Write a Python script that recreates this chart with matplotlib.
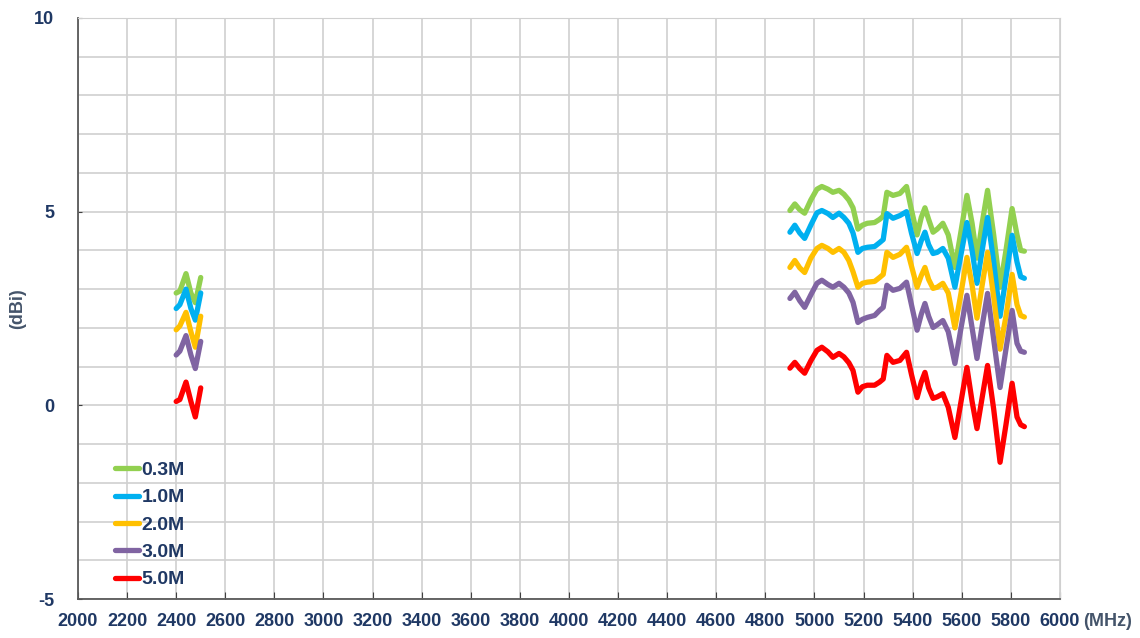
import matplotlib
matplotlib.use("Agg")
import matplotlib.pyplot as plt

# frequency points (MHz)
freq_24 = [2400, 2415, 2440, 2460, 2478, 2500]
freq_5 = [4900, 4920, 4940, 4960, 4985, 5010, 5030, 5055, 5075, 5100,
          5120, 5140, 5157, 5177, 5195, 5215, 5245, 5265, 5280, 5295,
          5320, 5348, 5375, 5395, 5418, 5435, 5450, 5465, 5483, 5500,
          5523, 5545, 5572, 5597, 5621, 5642, 5662, 5683, 5705, 5730,
          5756, 5780, 5805, 5825, 5840, 5855]

labels = ["0.3M", "1.0M", "2.0M", "3.0M", "5.0M"]
colors = ["#92D050", "#00B0F0", "#FFC000", "#8064A2", "#FF0000"]

# gain (dBi), 2.4 GHz band
gain_24_03 = [2.9, 2.95, 3.4, 2.9, 2.65, 3.3]
gain_24_10 = [2.5, 2.6, 3.0, 2.5, 2.2, 2.9]
gain_24_20 = [1.95, 2.05, 2.4, 1.9, 1.5, 2.3]
gain_24_30 = [1.3, 1.4, 1.8, 1.3, 0.95, 1.65]
gain_24_50 = [0.1, 0.15, 0.6, 0.1, -0.3, 0.45]

# gain (dBi), 5 GHz band
gain_5_03 = [5.03, 5.2, 5.05, 4.96, 5.3, 5.58, 5.65, 5.58, 5.5, 5.55,
             5.45, 5.3, 5.1, 4.55, 4.65, 4.7, 4.72, 4.8, 4.88, 5.5,
             5.42, 5.47, 5.65, 5.05, 4.4, 4.85, 5.1, 4.8, 4.47, 4.55,
             4.7, 4.4, 3.56, 4.5, 5.42, 4.7, 3.8, 4.7, 5.55, 4.4,
             3.05, 4.0, 5.08, 4.4, 4.0, 3.98]
gain_5_10 = [4.47, 4.65, 4.45, 4.31, 4.65, 4.97, 5.03, 4.95, 4.85, 4.96,
             4.85, 4.7, 4.45, 3.95, 4.05, 4.08, 4.1, 4.2, 4.28, 4.95,
             4.83, 4.9, 5.0, 4.45, 3.92, 4.25, 4.47, 4.15, 3.92, 3.95,
             4.05, 3.8, 3.05, 3.9, 4.72, 4.0, 3.15, 4.0, 4.85, 3.7,
             2.3, 3.3, 4.39, 3.7, 3.32, 3.28]
gain_5_20 = [3.56, 3.74, 3.55, 3.43, 3.8, 4.05, 4.13, 4.05, 3.95, 4.05,
             3.95, 3.74, 3.45, 3.05, 3.15, 3.18, 3.2, 3.3, 3.38, 3.95,
             3.82, 3.9, 4.08, 3.6, 3.05, 3.35, 3.56, 3.25, 3.02, 3.05,
             3.15, 2.9, 2.0, 2.9, 3.82, 3.1, 2.25, 3.1, 3.95, 2.8,
             1.45, 2.3, 3.38, 2.6, 2.32, 2.28]
gain_5_30 = [2.76, 2.92, 2.7, 2.53, 2.85, 3.15, 3.23, 3.12, 3.05, 3.15,
             3.05, 2.9, 2.66, 2.14, 2.22, 2.27, 2.32, 2.45, 2.53, 3.1,
             2.97, 3.02, 3.18, 2.6, 1.94, 2.35, 2.63, 2.3, 2.01, 2.08,
             2.19, 1.9, 1.08, 2.0, 2.84, 2.0, 1.21, 2.05, 2.89, 1.7,
             0.46, 1.45, 2.45, 1.6, 1.4, 1.37]
gain_5_50 = [0.96, 1.11, 0.95, 0.83, 1.15, 1.42, 1.5, 1.38, 1.24, 1.34,
             1.25, 1.1, 0.9, 0.34, 0.48, 0.52, 0.52, 0.6, 0.68, 1.29,
             1.11, 1.16, 1.37, 0.8, 0.2, 0.6, 0.85, 0.45, 0.18, 0.22,
             0.3, -0.05, -0.83, 0.1, 0.98, 0.1, -0.6, 0.2, 1.03, -0.1,
             -1.47, -0.5, 0.57, -0.3, -0.5, -0.55]

band_24 = [gain_24_03, gain_24_10, gain_24_20, gain_24_30, gain_24_50]
band_5 = [gain_5_03, gain_5_10, gain_5_20, gain_5_30, gain_5_50]

navy = "#1F3864"
plt.rcParams["font.family"] = ["Liberation Sans", "DejaVu Sans"]
plt.rcParams["axes.unicode_minus"] = False

fig = plt.figure(figsize=(11.4, 6.38), dpi=100)
ax = fig.add_axes([0.0684, 0.0611, 0.8614, 0.9107])

for g24, g5, lab, col in zip(band_24, band_5, labels, colors):
    ax.plot(freq_24, g24, color=col, lw=3.8, solid_joinstyle="round",
            solid_capstyle="round", label=lab)
    ax.plot(freq_5, g5, color=col, lw=3.8, solid_joinstyle="round",
            solid_capstyle="round")

ax.set_xlim(2000, 6000)
ax.set_ylim(-5, 10)
ax.set_xticks(range(2000, 6001, 200))
ax.set_yticks([-5, 0, 5, 10])
ax.set_yticks(range(-5, 11), minor=True)
ax.grid(True, which="both", color="#D0D0D0", lw=1.2)
ax.set_axisbelow(True)

for s in ["top", "right"]:
    ax.spines[s].set_color("#D0D0D0")
for s in ["left", "bottom"]:
    ax.spines[s].set_color("#595959")
    ax.spines[s].set_linewidth(1.3)

ax.tick_params(axis="x", direction="in", length=5, color="#404040",
               pad=10, labelsize=13, labelcolor=navy)
ax.tick_params(axis="y", which="major", direction="in", length=3,
               color="#404040", pad=17, labelsize=13, labelcolor=navy)
ax.tick_params(axis="y", which="minor", length=0)
for t in ax.get_xticklabels() + ax.get_yticklabels():
    t.set_fontweight("bold")

ax.set_ylabel("(dBi)", fontsize=13, fontweight="bold", color="#44546A",
              labelpad=6)
fig.text(0.993, 0.026, "(MHz)", fontsize=13, fontweight="bold",
         color="#44546A", ha="right", va="center")

leg = ax.legend(loc="lower left", bbox_to_anchor=(0.02, -0.012), frameon=False,
                handlelength=1.25, handletextpad=0.1, labelspacing=0.5,
                prop={"size": 14, "weight": "bold"})
for t in leg.get_texts():
    t.set_color(navy)

fig.savefig("out.png", dpi=100)
